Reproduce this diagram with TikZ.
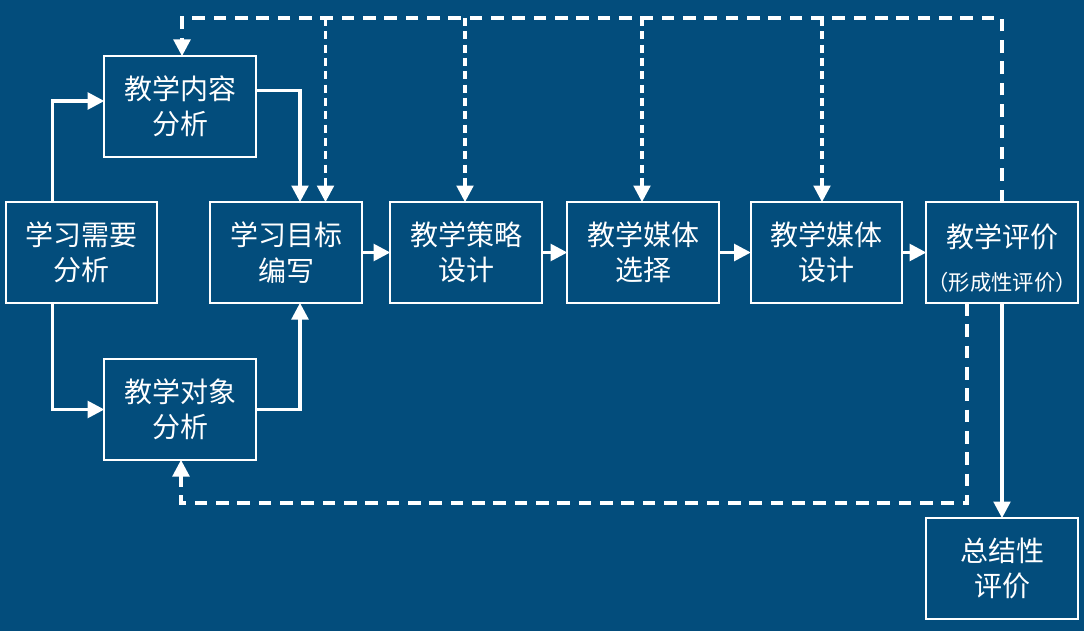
\documentclass[tikz,border=0pt]{standalone}
\usepackage{fontspec}
\newfontfamily\cjk{Noto Sans CJK SC}
\usetikzlibrary{arrows.meta,calc}
\definecolor{bgblue}{RGB}{3,77,124}
\begin{document}
\begin{tikzpicture}[x=0.75pt,y=-0.75pt,
  box/.style={draw=white, line width=1.6pt, minimum width=113.5pt, minimum height=75.5pt,
    inner sep=0pt, outer sep=0pt, text=white, align=center,
    font=\cjk\fontsize{21}{26.5}\selectfont},
  txt/.style={inner sep=0pt, text=white, font=\cjk\fontsize{21}{26.5}\selectfont},
  smalltxt/.style={inner sep=0pt, text=white, font=\cjk\fontsize{16}{18}\selectfont},
  tip/.style={-{Triangle[length=12.5pt,width=12.5pt]}},
  conn/.style={draw=white, line width=2.5pt},
  dloop/.style={draw=white, line width=2.5pt, dash pattern=on 9.5pt off 6.5pt},
  dshort/.style={draw=white, line width=2.5pt, dash pattern=on 6pt off 4pt}]
\fill[bgblue] (0,0) rectangle (1084,631);
\useasboundingbox (0,0) rectangle (1084,631);

\node[box] (A) at (81.5,252.5) {学习需要\\分析};
\node[box] (B) at (180,106.5) {教学内容\\分析};
\node[box] (C) at (180,409.5) {教学对象\\分析};
\node[box] (D) at (286,252.5) {学习目标\\编写};
\node[box] (E) at (466,252.5) {教学策略\\设计};
\node[box] (F) at (643,252.5) {教学媒体\\选择};
\node[box] (G) at (826.5,252.5) {教学媒体\\设计};
\node[box] (H) at (1002,252.5) {};
\node[txt] (H1) at (1002,237) {教学评价};
\node[smalltxt] (H2) at (1002,282) {（形成性评价）};
\node[box] (I) at (1002,568.5) {总结性\\评价};

% solid connectors
\draw[conn,tip] ($(A.north)+(-29,0)$) |- ($(B.west)+(0,-5.5)$);
\draw[conn,tip] ($(A.south)+(-29,0)$) |- (C.west);
\draw[conn,tip] ($(B.east)+(0,-16)$) -| ($(D.north)+(14,0)$);
\draw[conn,tip] (C.east) -| ($(D.south)+(14,0)$);
\draw[conn,tip] (D.east) -- (E.west);
\draw[conn,tip] (E.east) -- (F.west);
\draw[conn,tip] (F.east) -- (G.west);
\draw[conn,tip] (G.east) -- (H.west);
\draw[conn,tip] (H.south) -- (I.north);

% dashed feedback loops
\coordinate (t) at (1002,18);
\coordinate (b) at (967,503);
\draw[dloop,tip] (H.north) -- (t) -- ($(B.north |- t)+(2,0)$) -- ($(B.north)+(2,0)$);
\draw[dshort,tip] ($(D.north |- t)+(39.5,0)$) -- ($(D.north)+(39.5,0)$);
\draw[dshort,tip] ($(E.north |- t)+(-1,0)$) -- ($(E.north)+(-1,0)$);
\draw[dshort,tip] ($(F.north |- t)+(-1,0)$) -- ($(F.north)+(-1,0)$);
\draw[dshort,tip] ($(G.north |- t)+(-4.5,0)$) -- ($(G.north)+(-4.5,0)$);
\draw[dloop,tip] (H.south -| b) -- (b) -- ($(C.south |- b)+(1,0)$) -- ($(C.south)+(1,0)$);
\end{tikzpicture}
\end{document}
